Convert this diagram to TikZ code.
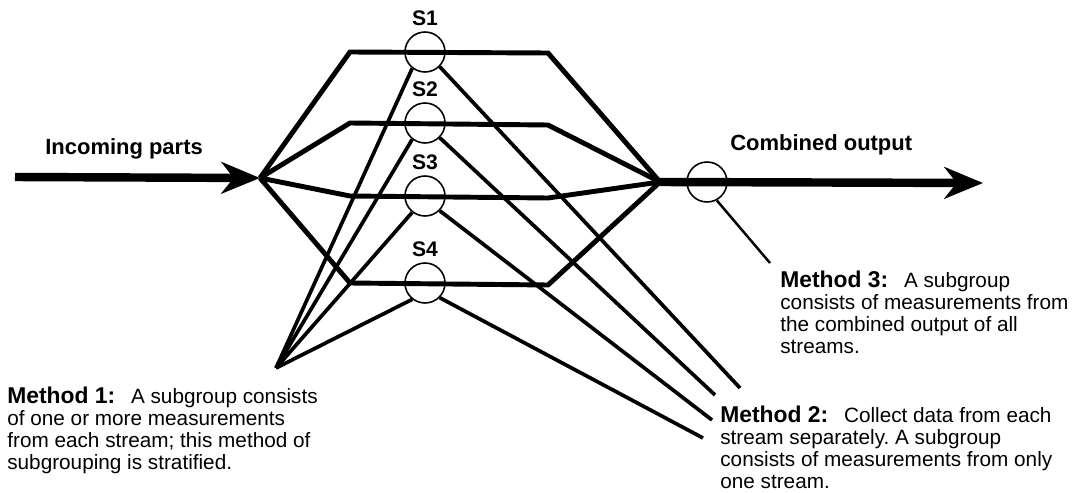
\documentclass[tikz,border=0pt]{standalone}
\usepackage{fontspec}
\setmainfont{Liberation Sans}
\usetikzlibrary{arrows.meta,positioning}
\frenchspacing

\newcommand{\methodlabel}[1]{{\fontsize{13}{12.5}\selectfont\bfseries #1}\hspace{9pt}}

\tikzset{
  flow/.style={line width=4.8pt, -{Stealth[length=22pt, width=18pt, inset=7pt]}},
  stream/.style={line width=2.8pt},
  sampler/.style={draw, circle, line width=0.9pt, minimum size=8mm, inner sep=0pt},
  tag/.style={inner sep=0pt, font=\fontsize{12}{14}\selectfont\bfseries},
  heading/.style={anchor=base west, inner sep=0pt, font=\fontsize{12.5}{14}\selectfont\bfseries},
  pick/.style={line width=2.1pt},
  note/.style={align=left, anchor=north west, inner sep=0pt, font=\fontsize{11.8}{12.5}\selectfont}
}

\begin{document}
\begin{tikzpicture}[x=0.2mm, y=-0.2mm]
  \useasboundingbox (0,0) rectangle (1078,493);

  \coordinate (start) at (15,177);
  \coordinate (split) at (260,178);
  \coordinate (merge) at (660,182);
  \coordinate (finish) at (983,183);

  \draw[flow] (start) -- (split);
  \draw[flow] (merge) -- (finish);

  % the four streams with a sampling point on each
  \foreach \i/\y/\yy in {1/52/53, 2/123/125, 3/196/198, 4/283/285} {
    \coordinate (in\i) at (350,\y);
    \coordinate (out\i) at (548,\yy);
    \draw[stream] (split) -- (in\i) -- (out\i) -- (merge);
    \node (s\i) [sampler] at (425,\y) {};
    \node (lab\i) [tag, above=3pt of s\i] {S\i};
  }

  \node (cmb) [sampler] at (707,182) {};

  \node (incoming) [heading] at (45,155) {Incoming parts};
  \node (combined) [heading] at (730,151) {Combined output};

  % method 1: one point tied to every stream
  \coordinate (m1) at (276,368);
  \foreach \i in {1,...,4}
    \draw[pick] (m1) -- (s\i.232);

  % method 2: each stream on its own
  \foreach \i/\x/\y in {1/740/388, 2/715/395, 3/712/420, 4/703/438} {
    \coordinate (e\i) at (\x,\y);
    \draw[pick] (s\i.315) -- (e\i);
  }

  % method 3: after the streams join
  \coordinate (m3) at (770,263);
  \draw[line width=1.4pt] (cmb.298) -- (m3);

  \node (method1) [note] at (7,387) {\methodlabel{Method 1:}A subgroup consists\\
    of one or more measurements\\
    from each stream; this method of\\
    subgrouping is stratified.};
  \node (method2) [note] at (720,406) {\methodlabel{Method 2:}Collect data from each\\
    stream separately. A subgroup\\
    consists of measurements from only\\
    one stream.};
  \node (method3) [note] at (780,271) {\methodlabel{Method 3:}A subgroup\\
    consists of measurements from\\
    the combined output of all\\
    streams.};
\end{tikzpicture}
\end{document}
